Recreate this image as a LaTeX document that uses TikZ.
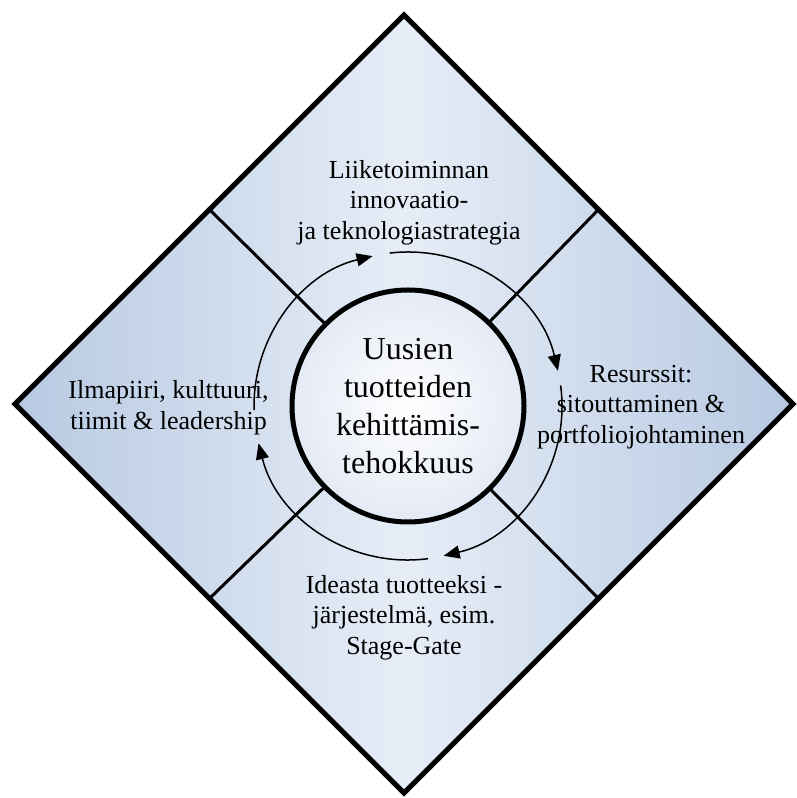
\documentclass[tikz,border=0pt]{standalone}
\usepackage{fontspec}
\setmainfont{Liberation Serif}
\usetikzlibrary{arrows.meta}

\definecolor{quadedge}{HTML}{B7C9E2}
\definecolor{quadmid}{HTML}{E6EDF7}
\definecolor{corerim}{HTML}{E4EAF4}

\begin{document}
\begin{tikzpicture}[x=1pt,y=1pt,
  frame/.style={line width=5pt, line join=miter},
  divider/.style={line width=3pt},
  cyclearrow/.style={line width=1.5pt, -{Triangle[length=16pt,width=13pt]}},
  quadtext/.style={align=center, inner sep=0pt, font=\fontsize{26}{30.5}\selectfont},
  coretext/.style={align=center, font=\fontsize{32}{37.8}\selectfont},
]
\useasboundingbox (0,0) rectangle (796,798);

% corners of the diamond
\coordinate (T) at (404,783);
\coordinate (R) at (793,394);
\coordinate (B) at (404,5);
\coordinate (L) at (15,394);
% midpoints of its edges
\coordinate (mTL) at (209.5,588.5);
\coordinate (mTR) at (598.5,588.5);
\coordinate (mBR) at (598.5,199.5);
\coordinate (mBL) at (209.5,199.5);

% background of the four fields
\shade[left color=quadedge, right color=quadedge, middle color=quadmid]
  (T) -- (R) -- (B) -- (L) -- cycle;

% central circle
\node[circle, draw, line width=5pt, minimum size=232pt, inner sep=0pt,
      inner color=white, outer color=corerim, coretext] (core) at (408,392)
  {Uusien\\tuotteiden\\kehittämis-\\tehokkuus};

% field dividers
\draw[divider] (core) -- (mTL);
\draw[divider] (core) -- (mTR);
\draw[divider] (core) -- (mBR);
\draw[divider] (core) -- (mBL);

% outline
\draw[frame] (T) -- (R) -- (B) -- (L) -- cycle;

% clockwise cycle around the centre
\draw[cyclearrow] ([shift={(96.8:154)}]core.center) arc[start angle=96.8, end angle=13.2, radius=154];
\draw[cyclearrow] ([shift={(7.7:154)}]core.center) arc[start angle=7.7, end angle=-76.6, radius=154];
\draw[cyclearrow] ([shift={(-82.5:154)}]core.center) arc[start angle=-82.5, end angle=-166, radius=154];
\draw[cyclearrow] ([shift={(181.5:154)}]core.center) arc[start angle=181.5, end angle=103.3, radius=154];

% field texts
\node[quadtext] (strategy) at (409,595.5) {Liiketoiminnan\\innovaatio-\\ja teknologiastrategia};
\node[quadtext] (climate) at (168.5,390) {Ilmapiiri, kulttuuri,\\tiimit \& leadership};
\node[quadtext] (resources) at (641,391) {Resurssit:\\sitouttaminen \&\\portfoliojohtaminen};
\node[quadtext] (process) at (404,180.5) {Ideasta tuotteeksi -\\järjestelmä, esim.\\Stage-Gate};
\end{tikzpicture}
\end{document}
